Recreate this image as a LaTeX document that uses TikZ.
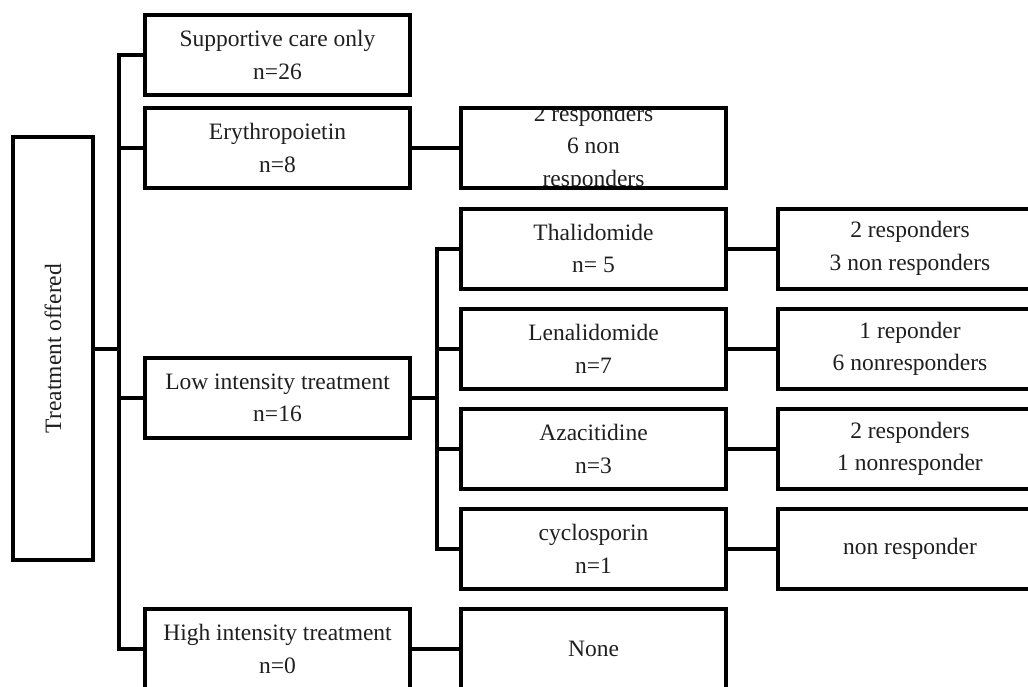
\documentclass[tikz,border=0pt]{standalone}
\usepackage{fontspec}
\setmainfont{Liberation Serif}
\begin{document}
\begin{tikzpicture}[x=1pt,y=-1pt,
  txt/.style={align=center, inner sep=0pt, text=black!88, font=\fontsize{23.5}{32.5}\selectfont},
  box/.style={txt, draw, line width=4pt, minimum width=265pt, minimum height=80pt, outer sep=0pt},
  conn/.style={line width=4pt}]
\useasboundingbox (0,0) rectangle (1028,686);

% root
\node[box, minimum width=80pt, minimum height=423pt] (to) at (53,348.5) {\rotatebox{90}{Treatment offered}};

% first level
\node[box] (sc) at (277.5,55)  {Supportive care only\\n=26};
\node[box] (ep) at (277.5,148) {Erythropoietin\\n=8};
\node[box] (li) at (277.5,398) {Low intensity treatment\\n=16};
\node[box] (hi) at (277.5,649) {High intensity treatment\\n=0};

% second level
\node[box] (epr) at (593.5,148) {};
\begin{scope}
  \clip (epr.south west) rectangle (epr.north east);
  \node[txt] (eprt) at (epr.center) {2 responders\\6 non\\responders};
\end{scope}
\draw[line width=4pt] (epr.south west) rectangle (epr.north east);

\node[box] (th) at (593.5,248.5) {Thalidomide\\n= 5};
\node[box] (le) at (593.5,349)   {Lenalidomide\\n=7};
\node[box] (az) at (593.5,449)   {Azacitidine\\n=3};
\node[box] (cy) at (593.5,549)   {cyclosporin\\n=1};
\node[box] (no) at (593.5,649)   {None};

% third level
\node[box] (thr) at (910,248.5) {2 responders\\3 non responders};
\node[box] (ler) at (910,349)   {1 reponder\\6 nonresponders};
\node[box] (azr) at (910,449)   {2 responders\\1 nonresponder};
\node[box] (cyr) at (910,549)   {non responder};

% trunks
\coordinate (t) at (119,0);
\coordinate (s) at (437,0);

\draw[conn] (sc.west) -- (sc.west -| t) -- (hi.west -| t) -- (hi.west);
\draw[conn] (ep.west) -- (ep.west -| t);
\draw[conn] (li.west) -- (li.west -| t);
\draw[conn] (to.east) -- (to.east -| t);

\draw[conn] (th.west) -- (th.west -| s) -- (cy.west -| s) -- (cy.west);
\draw[conn] (le.west) -- (le.west -| s);
\draw[conn] (az.west) -- (az.west -| s);
\draw[conn] (li.east) -- (li.east -| s);

\draw[conn] (ep.east) -- (epr.west);
\draw[conn] (hi.east) -- (no.west);
\draw[conn] (th.east) -- (thr.west);
\draw[conn] (le.east) -- (ler.west);
\draw[conn] (az.east) -- (azr.west);
\draw[conn] (cy.east) -- (cyr.west);
\end{tikzpicture}
\end{document}
